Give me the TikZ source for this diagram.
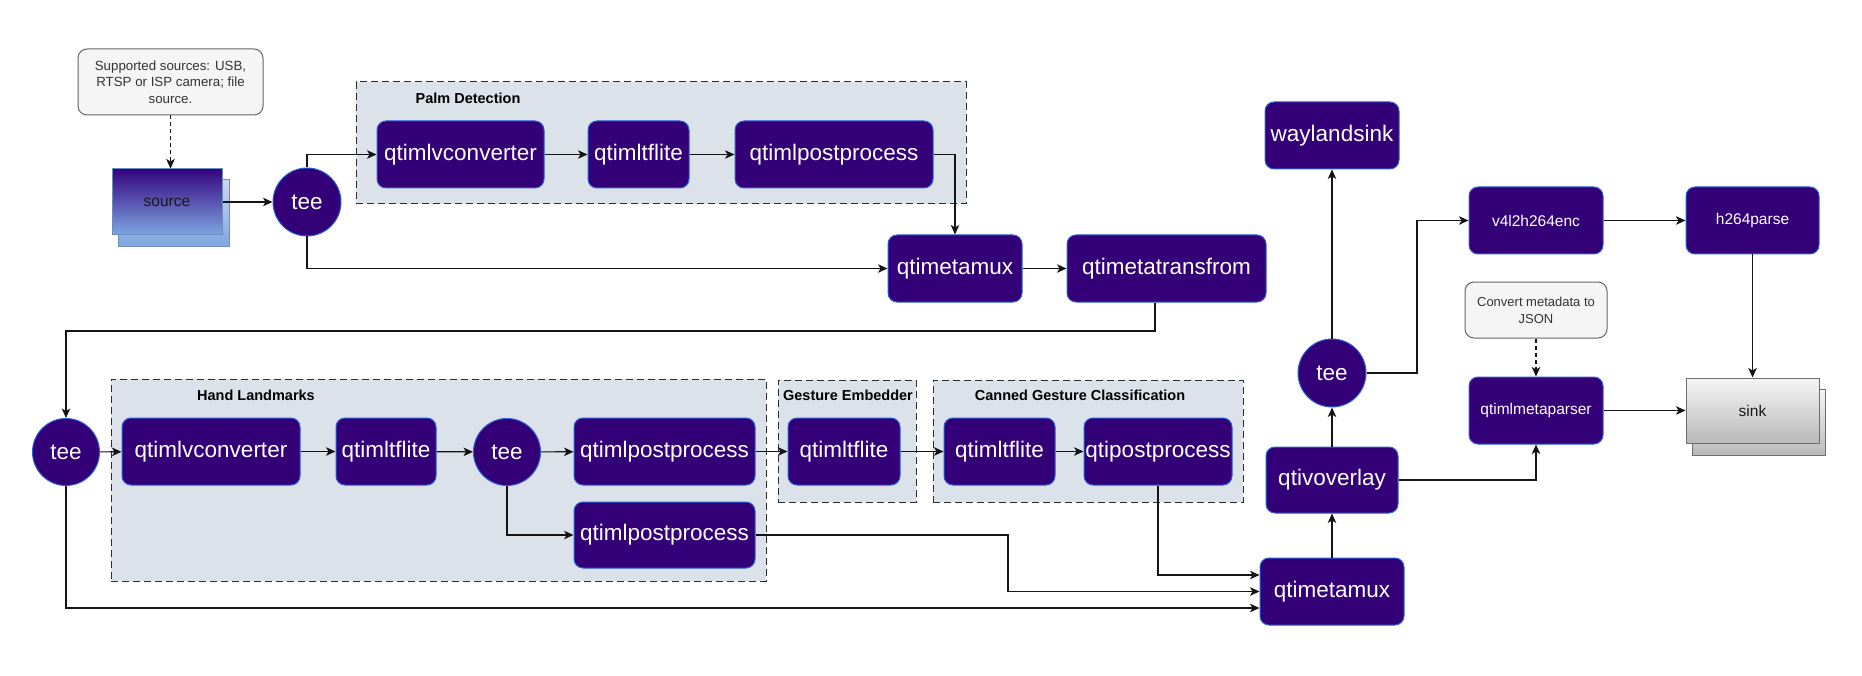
\documentclass[tikz,border=0pt]{standalone}
\usepackage{fontspec}
\setmainfont{Liberation Sans}
\usetikzlibrary{arrows.meta,calc}
\definecolor{procfill}{RGB}{51,0,119}
\definecolor{procborder}{RGB}{45,95,215}
\definecolor{grpfill}{RGB}{220,226,234}
\definecolor{grpborder}{RGB}{45,45,45}
\definecolor{notefill}{RGB}{245,245,245}
\definecolor{noteborder}{RGB}{102,102,102}
\definecolor{notetext}{RGB}{51,51,51}
\definecolor{srctop}{RGB}{52,4,128}
\definecolor{srcbot}{RGB}{126,166,224}
\definecolor{srcbacktop}{RGB}{200,216,240}
\definecolor{srcborder}{RGB}{108,142,191}
\definecolor{sinktop}{RGB}{245,245,245}
\definecolor{sinkbot}{RGB}{185,185,185}
\definecolor{sinkborder}{RGB}{110,110,110}
\definecolor{wirecol}{RGB}{20,20,20}
\newcommand{\fbig}{\fontsize{22.5}{26}\selectfont}
\newcommand{\fmid}{\fontsize{15.5}{18}\selectfont}
\newcommand{\fsmall}{\fontsize{13.3}{16.5}\selectfont}
\newcommand{\flbl}{\fontsize{14.5}{17}\selectfont\bfseries}
\tikzset{
  proc/.style={rounded corners=9pt, fill=procfill, draw=procborder, line width=1pt,
    text=white, font=\fbig, inner sep=0pt, minimum height=67pt},
  procm/.style={proc, font=\fmid},
  teenode/.style={circle, fill=procfill, draw=procborder, line width=1pt,
    text=white, font=\fbig, inner sep=0pt, minimum size=68pt},
  grp/.style={fill=grpfill, draw=grpborder, line width=1pt, dash pattern=on 7pt off 4pt, inner sep=0pt},
  grplabel/.style={font=\flbl, text=black, inner sep=0pt},
  note/.style={rounded corners=9pt, fill=notefill, draw=noteborder, line width=1pt,
    text=notetext, font=\fsmall, align=center, inner sep=0pt},
  srcfront/.style={top color=srctop, bottom color=srcbot, draw=srcborder, line width=1pt,
    inner sep=0pt, font=\fmid, text=black!90},
  srcback/.style={top color=srcbacktop, bottom color=srcbot, draw=srcborder, line width=1pt, inner sep=0pt},
  sinkfront/.style={top color=sinktop, bottom color=sinkbot, draw=sinkborder, line width=1pt,
    inner sep=0pt, font=\fmid, text=black!90},
  wire/.style={draw=wirecol, line width=1.2pt, -{Stealth[length=9.5pt,width=8.5pt,inset=2.5pt]}},
  dwire/.style={wire, dash pattern=on 4pt off 3pt},
}
\begin{document}
\begin{tikzpicture}[x=1pt,y=-1pt]
\useasboundingbox (0,0) rectangle (1862,676);
% groups
\node[grp, minimum width=610pt, minimum height=122pt] (palm) at (661,143) {};
\node[grplabel] (palmlbl) at (468,98) {Palm Detection};
\node[grp, minimum width=655pt, minimum height=202pt] (hand) at (438.5,480) {};
\node[grplabel] (handlbl) at (256,395) {Hand Landmarks};
\node[grp, minimum width=138pt, minimum height=122pt] (gemb) at (847,441) {};
\node[grp, minimum width=310pt, minimum height=122pt] (canned) at (1088,441) {};
\node[grplabel] (gemblbl) at (848,395) {Gesture Embedder};
\node[grplabel] (cannedlbl) at (1080,395) {Canned Gesture Classification};
% notes
\node[note, minimum width=185pt, minimum height=66pt] (note1) at (170.5,82) {Supported sources: USB,\\RTSP or ISP camera; file\\source.};
\node[note, minimum width=142pt, minimum height=56pt, font=\fontsize{13}{17}\selectfont] (note2) at (1536,310) {Convert metadata to\\JSON};
% source
\node[srcback, minimum width=111pt, minimum height=67pt] (sourceB) at (174,213) {};
\node[srcfront, minimum width=110pt, minimum height=66pt] (source) at (167,202) {source};
% top row
\node[teenode] (tee1) at (307,202) {tee};
\node[proc, minimum width=167pt] (pdconv) at (460.5,154.5) {qtimlvconverter};
\node[proc, minimum width=101pt] (pdtfl) at (638.5,154.5) {qtimltflite};
\node[proc, minimum width=198pt] (pdpost) at (834,154.5) {qtimlpostprocess};
\node[proc, minimum width=134pt] (mux1) at (955,268.5) {qtimetamux};
\node[proc, minimum width=199pt] (trans) at (1166.5,268.5) {qtimetatransfrom};
% second row
\node[teenode, minimum size=67pt] (tee2) at (66,452) {tee};
\node[proc, minimum width=178pt] (hlconv) at (211,451.5) {qtimlvconverter};
\node[proc, minimum width=100pt] (hltfl) at (386,451.5) {qtimltflite};
\node[teenode, minimum size=67pt] (tee4) at (507,452) {tee};
\node[proc, minimum width=181pt] (hlpost1) at (664.5,451.5) {qtimlpostprocess};
\node[proc, minimum width=181pt, minimum height=66pt] (hlpost2) at (664.5,535) {qtimlpostprocess};
\node[proc, minimum width=112pt] (getfl) at (844,451.5) {qtimltflite};
\node[proc, minimum width=111pt] (cgtfl) at (999.5,451.5) {qtimltflite};
\node[proc, minimum width=148pt] (cgpost) at (1158,451.5) {qtipostprocess};
\node[proc, minimum width=144pt] (mux2) at (1332,591.5) {qtimetamux};
\node[proc, minimum width=132pt, minimum height=66pt] (overlay) at (1332,480) {qtivoverlay};
\node[teenode] (tee3) at (1332,373) {tee};
\node[proc, minimum width=134pt] (wayland) at (1332,135.5) {waylandsink};
% right side
\node[procm, minimum width=134pt] (enc) at (1536,220.5) {v4l2h264enc};
\node[procm, minimum width=133pt] (parse) at (1752.5,220.5) {h264parse};
\node[procm, minimum width=134pt] (meta) at (1536,410.5) {qtimlmetaparser};
\node[sinkfront, minimum width=133pt, minimum height=66pt] (sinkB) at (1758.5,422.5) {};
\node[sinkfront, minimum width=133pt, minimum height=65pt] (sink) at (1752.5,410.5) {sink};
% connectors
\draw[dwire] (note1.south) -- (note1.south |- source.north);
\draw[wire] (source.east) -- (tee1.west);
\draw[wire] (tee1.north) |- (pdconv.west);
\draw[wire] (pdconv) -- (pdtfl);
\draw[wire] (pdtfl) -- (pdpost);
\draw[wire] (pdpost.east) -| (mux1.north);
\draw[wire] (tee1.south) |- (mux1.west);
\draw[wire] (mux1) -- (trans);
\coordinate (k1) at (1155,331);
\draw[wire] ([xshift=-11.5pt]trans.south) -- (k1) -| (tee2.north);
\draw[wire] (tee2) -- (hlconv);
\draw[wire] (hlconv) -- (hltfl);
\draw[wire] (hltfl) -- (tee4);
\draw[wire] (tee4) -- (hlpost1);
\draw[wire] (tee4.south) |- (hlpost2.west);
\draw[wire] (hlpost1) -- (getfl);
\draw[wire] (getfl) -- (cgtfl);
\draw[wire] (cgtfl) -- (cgpost);
\coordinate (k2) at (1008,535);
\draw[wire] (hlpost2.east) -- (k2) |- (mux2.west);
\draw[wire] (cgpost.south) |- ([yshift=16.5pt]mux2.west);
\draw[wire] (tee2.south) |- ([yshift=-16.5pt]mux2.west);
\draw[wire] (mux2) -- (overlay);
\draw[wire] (overlay) -- (tee3);
\draw[wire] (tee3) -- (wayland);
\coordinate (k3) at (1417,373);
\draw[wire] (tee3.east) -- (k3) |- (enc.west);
\draw[wire] (enc) -- (parse);
\draw[wire] (parse.south) -- (sink.north);
\draw[dwire] (note2.south) -- (meta.north);
\draw[wire] (overlay.east) -| (meta.south);
\draw[wire] (meta.east) -- (sink.west);
\end{tikzpicture}
\end{document}
